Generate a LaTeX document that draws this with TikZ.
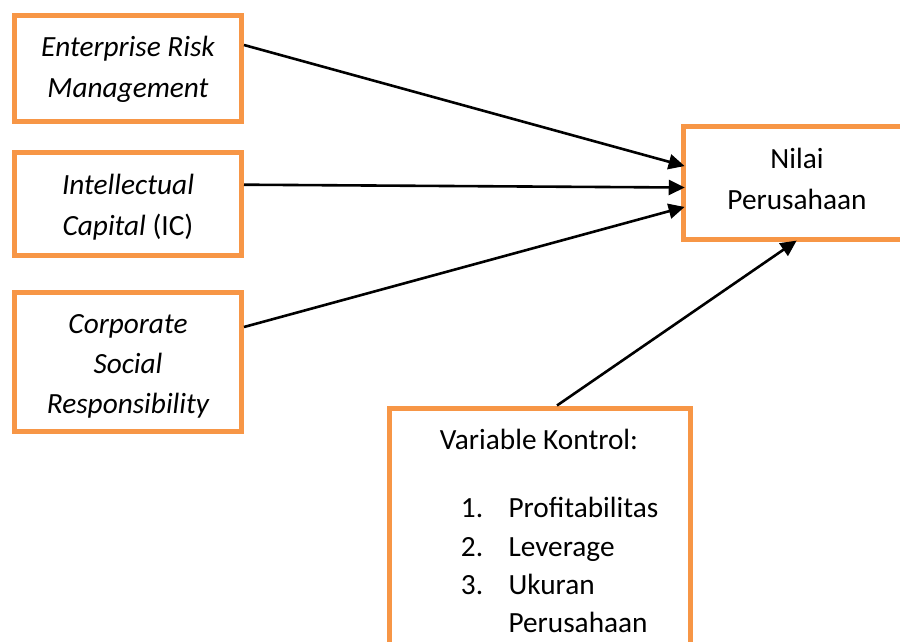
\documentclass[tikz,border=0pt]{standalone}
\usepackage{fontspec}
\setmainfont{Carlito}
\usetikzlibrary{arrows.meta}
\definecolor{boxorange}{HTML}{F79646}
\begin{document}
\begin{tikzpicture}[x=1pt,y=-1pt,
  box/.style={draw=boxorange,line width=5pt,fill=white,rectangle,inner sep=0pt},
  txt/.style={anchor=base,inner sep=0pt,font=\fontsize{29.3}{35}\selectfont},
  conn/.style={line width=2.6pt,-{Triangle[length=16pt,width=15pt]},shorten >=-4pt}]
\useasboundingbox (0,0) rectangle (900,642);
\begin{scope}
\clip (0,0) rectangle (900,642);
% boxes
\node[box,minimum width=227pt,minimum height=106pt] (erm) at (128,68.5) {};
\node[box,minimum width=227pt,minimum height=103.3pt] (ic) at (128,204.2) {};
\node[box,minimum width=227pt,minimum height=139pt] (csr) at (128,362) {};
\node[box,minimum width=227.5pt,minimum height=112.5pt] (nilai) at (797,183) {};
\node[box,minimum width=301.5pt,minimum height=260pt] (vk) at (540,538) {};
% texts
\node[txt] (t1) at (128,57) {\itshape Enterprise Risk};
\node[txt] (t2) at (128,97) {\itshape Management};
\node[txt] (t3) at (128,194) {\itshape Intellectual};
\node[txt] (t4) at (128,235) {\itshape Capital\/\upshape{} (IC)};
\node[txt] (t5) at (128,333.5) {\itshape Corporate};
\node[txt] (t6) at (128,373.5) {\itshape Social};
\node[txt] (t7) at (128,413.5) {\itshape Responsibility};
\node[txt] (t8) at (797,168.5) {Nilai};
\node[txt] (t9) at (797,209.5) {Perusahaan};
\node[txt] (t10) at (539,449) {Variable Kontrol:};
\node[txt,anchor=base west] (n1) at (460.7,517.5) {1.};
\node[txt,anchor=base west] (n2) at (460.7,556) {2.};
\node[txt,anchor=base west] (n3) at (460.7,594.5) {3.};
\node[txt,anchor=base west] (l1) at (508.3,517.5) {Profitabilitas};
\node[txt,anchor=base west] (l2) at (508.3,556) {Leverage};
\node[txt,anchor=base west] (l3) at (508.3,594.5) {Ukuran};
\node[txt,anchor=base west] (l4) at (508.3,632.5) {Perusahaan};
% connectors
\draw[conn] ([yshift=23.5pt]erm.east) -- ([yshift=18pt]nilai.west);
\draw[conn] ([yshift=19.5pt]ic.east) -- ([yshift=-4.5pt]nilai.west);
\draw[conn] ([yshift=35pt]csr.east) -- ([yshift=-25pt]nilai.west);
\draw[conn,shorten >=-2pt] ([xshift=17pt]vk.north) -- ([xshift=-2pt]nilai.south);
\end{scope}
\end{tikzpicture}
\end{document}
